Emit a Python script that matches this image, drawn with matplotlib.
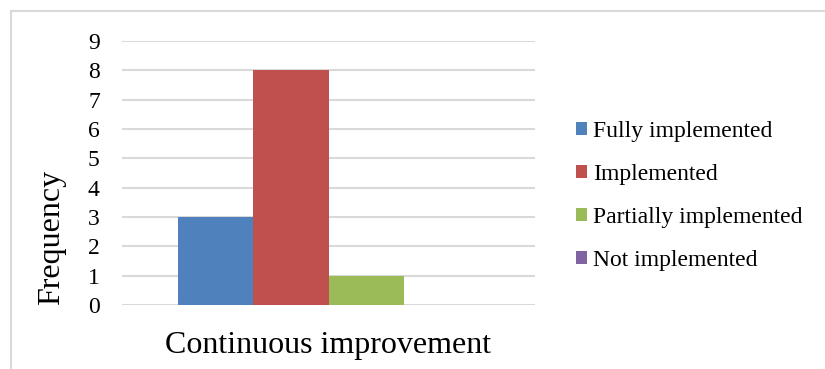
import matplotlib
matplotlib.use("Agg")
import matplotlib.pyplot as plt
from matplotlib.patches import Rectangle
import numpy as np

plt.rcParams['font.family'] = ['Liberation Serif', 'DejaVu Serif']

category = ["Continuous improvement"]
series_names = ["Fully implemented", "Implemented", "Partially implemented", "Not implemented"]
series_values = [3, 8, 1, 0]
series_colors = ["#4F81BD", "#C0504D", "#9BBB59", "#8064A2"]
y_ticks = list(range(0, 10))

W, H = 825, 369
fig = plt.figure(figsize=(W / 100, H / 100), dpi=100)

# outer chart frame (runs off the right and bottom edges)
fig.patches.append(Rectangle((11 / W, -0.05), 1.1, 1 - 11 / H + 0.05,
                             transform=fig.transFigure, fill=False,
                             edgecolor="#D9D9D9", linewidth=1.5))

ax_l, ax_r = 122 / W, 535 / W
ax_b, ax_t = 1 - 305 / H, 1 - 41 / H
ax = fig.add_axes([ax_l, ax_b, ax_r - ax_l, ax_t - ax_b])

bar_w = 0.182
n = len(series_values)
x0 = 0.0
handles = []
for i, (name, val, col) in enumerate(zip(series_names, series_values, series_colors)):
    offset = (i - (n - 1) / 2) * bar_w
    b = ax.bar(x0 + offset, val, width=bar_w, color=col, label=name, zorder=3)
    handles.append(b)

ax.set_xlim(-0.5, 0.5)
ax.set_ylim(0, 9)
ax.set_yticks(y_ticks)
ax.set_yticklabels([str(t) for t in y_ticks], fontsize=17)
ax.set_xticks([x0])
ax.set_xticklabels(category, fontsize=23)
ax.tick_params(axis='x', length=0, pad=19)
ax.tick_params(axis='y', length=0, pad=16)
ax.yaxis.grid(True, color="#D9D9D9", linewidth=1.5, zorder=0)
ax.set_axisbelow(True)
for s in ax.spines.values():
    s.set_visible(False)

# axis title sits low, beside the lower ticks
fig.text(52 / W, 1 - 237 / H, "Frequency", rotation=90, fontsize=23,
         ha="center", va="center")

fig.legend(handles=handles, labels=series_names, loc="center left",
           bbox_to_anchor=(567 / W, 1 - 196 / H), frameon=False,
           fontsize=17, handlelength=0.45, handleheight=0.45,
           handletextpad=0.25, labelspacing=0.93, borderaxespad=0)

fig.savefig("out.png", dpi=100)
